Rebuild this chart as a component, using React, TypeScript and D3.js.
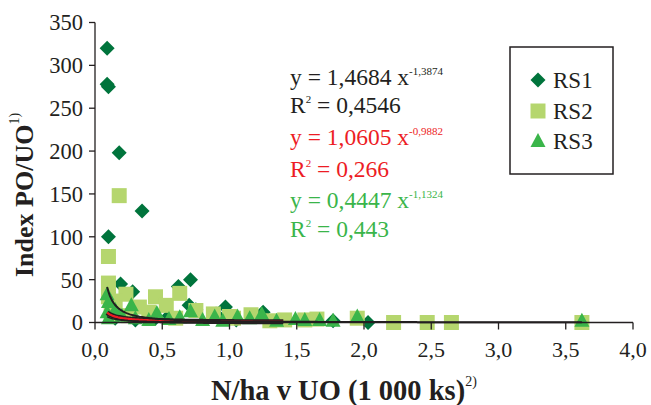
import React from "react";
import * as d3 from "d3";

// scatter data: [N/ha v UO (1 000 ks), Index PO/UO]
const rs1: [number, number][] = [
  [0.09, 320], [0.09, 278], [0.1, 275], [0.18, 198], [0.35, 130], [0.1, 100],
  [0.19, 45], [0.28, 36], [0.62, 42], [0.71, 50], [0.7, 20], [0.97, 18],
  [1.25, 12], [0.9, 10], [0.55, 8], [0.1, 35], [0.12, 20], [0.15, 5],
  [0.3, 3], [0.75, 15], [1.05, 3], [0.45, 5], [1.77, 2], [2.03, 0],
];
const rs2: [number, number][] = [
  [0.18, 148], [0.1, 77], [0.1, 46], [0.1, 30], [0.23, 33], [0.45, 30],
  [0.63, 34], [0.33, 18], [0.53, 20], [0.75, 14], [0.88, 10], [1.0, 7],
  [1.03, 5], [1.16, 9], [0.15, 25], [0.12, 10], [0.25, 8], [0.4, 12],
  [0.6, 5], [1.3, 2], [1.41, 3], [1.56, 3], [1.65, 4], [1.95, 5],
  [2.22, 0], [2.47, 0], [2.65, 0], [3.62, 0],
];
const rs3: [number, number][] = [
  [0.09, 33], [0.1, 24], [0.09, 12], [0.1, 5], [0.15, 15], [0.2, 8],
  [0.27, 20], [0.3, 5], [0.4, 3], [0.46, 11], [0.55, 4], [0.63, 6],
  [0.71, 13], [0.8, 3], [0.89, 7], [0.95, 2], [1.06, 7], [1.15, 5],
  [1.24, 10], [1.35, 2], [1.49, 4], [1.56, 3], [1.67, 3], [1.77, 2],
  [1.95, 7], [3.62, 2],
];

// power trendlines y = a * x^b, with the x range they are drawn over
const trendA = [1.4684, 1.0605, 0.4447];
const trendB = [-1.3874, -0.9882, -1.1324];
const trendFrom = [0.09, 0.09, 0.09];
const trendTo = [3.62, 1.4, 1.95];

const xTicks = [0, 0.5, 1, 1.5, 2, 2.5, 3, 3.5, 4];
const yTicks = [0, 50, 100, 150, 200, 250, 300, 350];
const seriesNames = ["RS1", "RS2", "RS3"];
const equations = [
  { a: "1,4684", b: "-1,3874", r2: "0,4546" },
  { a: "1,0605", b: "-0,9882", r2: "0,266" },
  { a: "0,4447", b: "-1,1324", r2: "0,443" },
];

const C1 = "#00743c";
const C2 = "#b5d66e";
const C3 = "#3ab54a";
const INK = "#231f20";
const RED = "#ed1c24";
const FONT = "'Liberation Serif', 'Times New Roman', serif";

const diamond = (cx: number, cy: number) =>
  `M${cx},${cy - 7.5}L${cx + 7.5},${cy}L${cx},${cy + 7.5}L${cx - 7.5},${cy}Z`;
const square = (cx: number, cy: number) =>
  `M${cx - 7.5},${cy - 7.5}h15v15h-15Z`;
const triangle = (cx: number, cy: number) =>
  `M${cx},${cy - 8}L${cx + 7.5},${cy + 6}L${cx - 7.5},${cy + 6}Z`;

export default function App() {
  const x = d3.scaleLinear().domain([0, 4]).range([95, 633]);
  const y = d3.scaleLinear().domain([0, 350]).range([322.5, 22.5]);

  const trend = (i: number) => {
    const pts = d3
      .range(trendFrom[i], trendTo[i] + 0.001, 0.01)
      .map((v) => [v, trendA[i] * Math.pow(v, trendB[i])] as [number, number]);
    return d3
      .line<[number, number]>()
      .x((d) => x(d[0]))
      .y((d) => y(d[1]))(pts) as string;
  };

  const eqColors = [INK, RED, C3];
  const eqBase = [85, 145, 208];
  const r2Base = [113, 177, 237];
  const legendY = [80, 111, 141];
  const legendShapes = [diamond, square, triangle];
  const legendColors = [C1, C2, C3];

  return (
    <svg
      width={651}
      height={405}
      style={{ position: "absolute", left: 0, top: 0, background: "#fff" }}
      fontFamily={FONT}
    >
      {/* markers */}
      {rs1.map((d, i) => (
        <path key={"a" + i} d={diamond(x(d[0]), y(d[1]))} fill={C1} />
      ))}
      {rs2.map((d, i) => (
        <path key={"b" + i} d={square(x(d[0]), y(d[1]))} fill={C2} />
      ))}
      {rs3.map((d, i) => (
        <path key={"c" + i} d={triangle(x(d[0]), y(d[1]))} fill={C3} />
      ))}

      {/* trendlines */}
      <path d={trend(1)} fill="none" stroke={INK} strokeWidth={5} />
      <path d={trend(1)} fill="none" stroke={RED} strokeWidth={2.2} />
      <path d={trend(2)} fill="none" stroke={INK} strokeWidth={1.5} />
      <path d={trend(0)} fill="none" stroke={INK} strokeWidth={2} />

      {/* axes */}
      <line x1={95} x2={95} y1={y(350)} y2={y(0)} stroke={INK} strokeWidth={1.3} />
      <line x1={95} x2={x(4)} y1={y(0)} y2={y(0)} stroke={INK} strokeWidth={1.3} />
      {yTicks.map((t) => (
        <g key={"y" + t}>
          <line x1={89} x2={95} y1={y(t)} y2={y(t)} stroke={INK} strokeWidth={1.3} />
          <text x={83} y={y(t)} dy="0.35em" textAnchor="end" fontSize={22.5} fill={INK}>
            {t}
          </text>
        </g>
      ))}
      {xTicks.map((t) => (
        <g key={"x" + t}>
          <line x1={x(t)} x2={x(t)} y1={y(0)} y2={y(0) + 7} stroke={INK} strokeWidth={1.3} />
          <text x={x(t)} y={357} textAnchor="middle" fontSize={22} fill={INK}>
            {d3.format(".1f")(t).replace(".", ",")}
          </text>
        </g>
      ))}

      {/* axis titles */}
      <text x={211} y={400} fontSize={28.5} fontWeight="bold" fill={INK}>
        N/ha v UO (1 000 ks)
        <tspan fontSize={14} fontWeight="normal" dy={-14}>2)</tspan>
      </text>
      <text
        transform="translate(33,277) rotate(-90)"
        fontSize={26}
        fontWeight="bold"
        fill={INK}
      >
        Index PO/UO
        <tspan fontSize={14} fontWeight="normal" dy={-14}>1)</tspan>
      </text>

      {/* trendline equations */}
      {equations.map((e, i) => (
        <g key={"e" + i} fill={eqColors[i]} fontSize={23.5}>
          <text x={290} y={eqBase[i]}>
            {"y = " + e.a + " x"}
            <tspan fontSize={11} dy={-10.5}>{e.b}</tspan>
          </text>
          <text x={290} y={r2Base[i]}>
            R<tspan fontSize={11} dy={-10}>2</tspan>
            <tspan dy={10}>{" = " + e.r2}</tspan>
          </text>
        </g>
      ))}

      {/* legend */}
      <rect x={510} y={47} width={103} height={127} fill="none" stroke={INK} strokeWidth={1.5} />
      {seriesNames.map((n, i) => (
        <g key={n}>
          <path d={legendShapes[i](538, legendY[i])} fill={legendColors[i]} />
          <text x={553} y={legendY[i] + 8} fontSize={23} fill={INK}>
            {n}
          </text>
        </g>
      ))}
    </svg>
  );
}
